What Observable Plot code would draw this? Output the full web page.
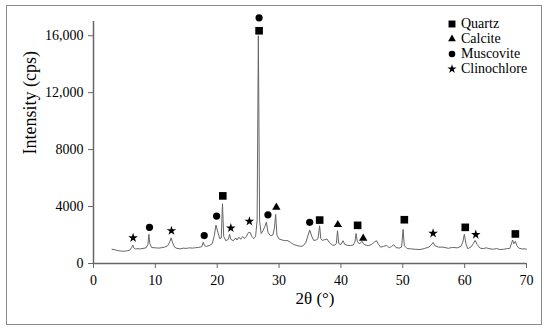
<!DOCTYPE html>
<html><head><meta charset="utf-8">
<script src="https://cdn.jsdelivr.net/npm/d3@7"></script>
<script src="https://cdn.jsdelivr.net/npm/@observablehq/plot@0.6"></script>
<style>
body{margin:0;background:#fff;}
#wrap{position:relative;width:550px;height:333px;font-family:'Liberation Serif';}
#border{position:absolute;left:6px;top:5px;width:534px;height:318px;border:1.5px solid #8a8a8a;}
#chart{position:absolute;left:0;top:0;}
#legend{position:absolute;left:446px;top:16px;font-size:14px;color:#000;font-family:'Liberation Serif';}
.row{display:flex;align-items:center;height:15px;}
.row svg{width:12px;height:12px;margin-right:3px;}
#chart svg, #chart svg text{font-family:'Liberation Serif' !important;}
</style></head>
<body><div id="wrap"><div id="border"></div><div id="chart"></div><div id="legend"></div></div>
<script>
// XRD pattern
const theta = [3.0,3.5,4.0,4.5,5.0,5.5,5.9,6.2,6.35,6.5,6.8,7.2,7.6,8.0,8.5,8.8,8.95,9.1,9.4,10.0,10.5,11.0,11.5,12.0,12.3,12.55,12.8,13.1,13.5,14.0,14.5,15.0,15.5,16.0,16.5,17.0,17.5,17.75,17.95,18.3,18.8,19.2,19.5,19.8,20.1,20.4,20.65,20.85,21.05,21.4,21.8,22.0,22.2,22.6,23.0,23.2,23.5,23.8,24.1,24.4,24.7,25.0,25.3,25.6,25.9,26.2,26.45,26.65,26.85,27.1,27.4,27.7,27.95,28.2,28.6,29.0,29.25,29.45,29.65,30.0,30.5,31.0,31.3,31.8,32.2,32.6,33.0,33.5,33.9,34.3,34.7,34.95,35.3,35.6,36.0,36.3,36.55,36.75,37.0,37.4,37.75,38.1,38.6,39.0,39.25,39.45,39.65,40.0,40.35,40.6,41.0,41.5,42.0,42.25,42.45,42.65,42.95,43.2,43.4,43.7,44.1,44.5,45.0,45.4,45.75,46.0,46.4,46.9,47.4,47.8,48.2,48.55,48.9,49.4,49.8,50.05,50.25,50.7,51.3,52.0,52.8,53.5,54.2,54.6,54.9,55.2,55.8,56.5,57.0,57.4,58.0,58.8,59.4,59.7,59.95,60.2,60.5,61.0,61.4,61.7,62.0,62.5,63.0,63.5,64.1,64.6,65.2,65.7,66.3,66.8,67.3,67.6,67.75,67.95,68.2,68.45,68.8,69.3,69.8,70.0];
const intensity = [1000,960,900,870,860,900,950,1150,1300,1100,1020,1040,1030,1060,1100,1350,2050,1400,1120,1100,1080,1110,1150,1250,1500,1800,1450,1150,1060,1030,1080,1060,1100,1080,1110,1130,1180,1500,1250,1200,1280,1400,1900,2700,2200,1750,1800,4200,1900,1600,1700,2050,1700,1600,1800,1650,1850,1700,1900,1750,1900,2150,2200,1900,1750,1900,3000,16000,3000,2100,2300,2600,2900,2200,1950,2000,2500,3450,2000,1720,1650,1600,1620,1500,1380,1300,1250,1200,1250,1450,2000,2350,1900,1620,1650,1750,2650,1750,1620,1680,1720,1500,1300,1280,1400,2300,1400,1330,1600,1350,1280,1260,1300,1500,2100,1550,1380,1450,1560,1350,1280,1260,1350,1500,1600,1400,1150,1200,1280,1100,1200,1320,1120,1080,1150,2400,1250,1050,1030,1000,980,1050,1150,1300,1480,1250,1150,1150,1100,1070,1130,1100,1200,1500,2050,1400,1040,1150,1400,1620,1350,1080,1050,1100,1030,1000,1050,980,1000,1040,1060,1450,1650,1380,1560,1250,1070,1020,1030,1000];

// Phase markers
const quartzTheta = [20.9,26.77,36.56,42.7,50.25,60.1,68.2];
const quartzI     = [4750,16350,3050,2680,3075,2540,2075];
const calciteTheta = [29.56,39.5,43.6];
const calciteI     = [3940,2725,1770];
const muscoviteTheta = [9.05,17.9,19.9,26.77,28.2,34.95];
const muscoviteI     = [2540,1960,3330,17260,3420,2890];
const clinoTheta = [6.4,12.6,22.2,25.2,54.9,61.8];
const clinoI     = [1800,2300,2490,2960,2120,2030];

// Ticks
const xTicks = [0,10,20,30,40,50,60,70];
const yTicks = [0,4000,8000,12000,16000];
const yTickLabels = ["0","4000","8000","12,000","16,000"];

const legendNames = ["Quartz","Calcite","Muscovite","Clinochlore"];
const legendSymbols = ["square","triangle","circle","star"];

const pattern = theta.map((t,i)=>({theta:t,intensity:intensity[i]}));
const pts = (xs,ys)=>xs.map((t,i)=>({theta:t,intensity:ys[i]}));
const font = "Liberation Serif";

const chart = Plot.plot({
  width:550, height:333,
  marginLeft:93, marginRight:24, marginTop:21, marginBottom:70,
  style:{fontFamily:font, fontSize:"14px", background:"transparent", color:"#000"},
  x:{domain:[0,70]},
  y:{domain:[0,17000]},
  marks:[
    Plot.axisX(xTicks,{tickSize:5, tickPadding:7, stroke:"#666", fontSize:14, fontFamily:font, label:null}),
    Plot.axisY(yTicks,{tickSize:5, tickPadding:5, stroke:"#666", fontSize:14, fontFamily:font, label:null,
      tickFormat:d=>yTickLabels[yTicks.indexOf(d)]}),
    Plot.ruleY([0],{stroke:"#666",strokeWidth:1.5}),
    Plot.ruleX([0],{stroke:"#666",strokeWidth:1.5}),
    Plot.line(pattern,{x:"theta",y:"intensity",stroke:"#666",strokeWidth:1}),
    Plot.dot(pts(quartzTheta,quartzI),{x:"theta",y:"intensity",symbol:"square",r:4.3,fill:"#000",stroke:"none"}),
    Plot.dot(pts(calciteTheta,calciteI),{x:"theta",y:"intensity",symbol:"triangle",r:3.1,fill:"#000",stroke:"none"}),
    Plot.dot(pts(muscoviteTheta,muscoviteI),{x:"theta",y:"intensity",symbol:"circle",r:3.6,fill:"#000",stroke:"none"}),
    Plot.dot(pts(clinoTheta,clinoI),{x:"theta",y:"intensity",symbol:"star",r:3.0,fill:"#000",stroke:"none"}),
    Plot.text(["2θ (°)"],{frameAnchor:"bottom", dy:40, dx:5, fontSize:17, fontFamily:font, fill:"#000"}),
    Plot.text(["Intensity (cps)"],{frameAnchor:"left", rotate:-90, dx:-63, dy:12, fontSize:18, fontFamily:font, fill:"#000"})
  ]
});
document.getElementById("chart").appendChild(chart);

// Legend
const symMap = {square:d3.symbolSquare, triangle:d3.symbolTriangle, circle:d3.symbolCircle, star:d3.symbolStar};
const symSize = {square:48, triangle:26, circle:34, star:26};
const leg = d3.select("#legend");
legendNames.forEach((name,i)=>{
  const row = leg.append("div").attr("class","row");
  const s = row.append("svg").attr("viewBox","-6 -6 12 12");
  s.append("path").attr("d", d3.symbol(symMap[legendSymbols[i]], symSize[legendSymbols[i]])()).attr("fill","#000");
  row.append("span").text(name);
});
</script>
</body></html>
